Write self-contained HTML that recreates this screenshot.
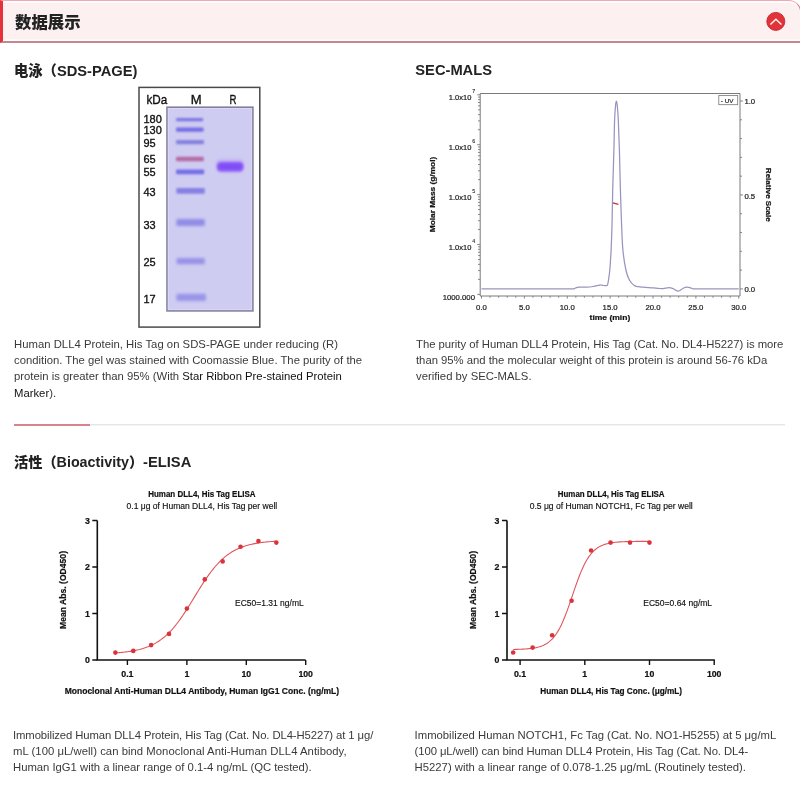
<!DOCTYPE html>
<html><head>
<meta charset="utf-8">
<style>
html,body{margin:0;padding:0;background:#fff;}
body{width:800px;height:804px;position:relative;overflow:hidden;font-family:"Liberation Sans","Noto Sans CJK SC",sans-serif;}
.abs{position:absolute;}
.hdr{position:absolute;left:0;top:0;width:801px;height:43px;box-sizing:border-box;background:#fcf0f1;box-shadow:inset 0 2px 0 #fff,inset 0 -1.5px 0 #fff;border-top:1.6px solid #f6a6ae;border-bottom:2px solid #c4878e;border-left:3px solid #e5323a;border-right:1px solid #c4878e;border-top-right-radius:12px;}
.hdr .t{position:absolute;left:12.1px;top:11.3px;font-size:16.4px;line-height:20px;font-weight:bold;color:#222;font-family:"Liberation Sans","Noto Sans CJK SC",sans-serif;}
.h2{position:absolute;font-size:14.7px;line-height:16px;font-weight:bold;color:#222;font-family:"Liberation Sans","Noto Sans CJK SC",sans-serif;white-space:nowrap;}
.cap{position:absolute;font-size:11.3px;line-height:16.25px;color:#3a3a3a;white-space:nowrap;}
.cj{font-family:"Liberation Sans","Noto Sans CJK SC",sans-serif;font-weight:900;}
.cap b{font-weight:normal;color:#111;}
.sep{position:absolute;left:14px;top:424px;width:771px;height:1px;background:#e6e6e6;box-shadow:0 1px 0 #f3f3f3;}
.sep i{position:absolute;left:0;top:0;width:76px;height:2px;background:#d9838c;}
</style>
</head>
<body>
<div class="hdr"><div class="t"><span class="cj">数据展示</span></div></div>
<svg class="abs" style="left:766px;top:12px" width="20" height="20" viewBox="0 0 20 20">
  <circle cx="9.8" cy="9.4" r="9.0" fill="#e0343a" stroke="#c8242c" stroke-width="0.9"></circle>
  <polyline points="4.4,12.5 9.9,7.2 15.4,12.5" fill="none" stroke="#fff2f2" stroke-width="1.45"></polyline>
</svg>

<div class="h2" style="left:14px;top:62.5px"><span class="cj" style="font-size:14.3px">电泳（</span>SDS-PAGE)</div>
<div class="h2" style="left:415.3px;top:62px">SEC-MALS</div>

<div class="cap" style="left:14px;top:335.8px"><div style="letter-spacing:0.017px">Human DLL4 Protein, His Tag on SDS-PAGE under reducing (R)</div><div>condition. The gel was stained with Coomassie Blue. The purity of the</div><div>protein is greater than 95% (With <b>Star Ribbon Pre-stained Protein</b></div><div><b>Marker</b>).</div></div>
<div class="cap" style="left:416px;top:335.8px"><div style="letter-spacing:-0.014px">The purity of Human DLL4 Protein, His Tag (Cat. No. DL4-H5227) is more</div><div style="letter-spacing:-0.015px">than 95% and the molecular weight of this protein is around 56-76 kDa</div><div>verified by SEC-MALS.</div></div>

<div class="sep"><i></i></div>

<div class="h2" style="left:14px;top:453.6px"><span class="cj" style="font-size:14.2px">活性（</span><span style="font-size:14.3px">Bioactivity</span><span class="cj" style="font-size:14.2px">）</span>-ELISA</div>

<div class="cap" style="left:13px;top:726.6px"><div style="letter-spacing:-0.094px">Immobilized Human DLL4 Protein, His Tag (Cat. No. DL4-H5227) at 1 μg/</div><div style="letter-spacing:0.04px">mL (100 μL/well) can bind Monoclonal Anti-Human DLL4 Antibody,</div><div style="letter-spacing:-0.017px">Human IgG1 with a linear range of 0.1-4 ng/mL (QC tested).</div></div>
<div class="cap" style="left:414.6px;top:726.6px"><div>Immobilized Human NOTCH1, Fc Tag (Cat. No. NO1-H5255) at 5 μg/mL</div><div style="letter-spacing:-0.086px">(100 μL/well) can bind Human DLL4 Protein, His Tag (Cat. No. DL4-</div><div>H5227) with a linear range of 0.078-1.25 μg/mL (Routinely tested).</div></div>

<svg class="abs" style="left:0;top:0" width="800" height="804" viewBox="0 0 800 804"><g font-family="'Liberation Sans', sans-serif">
<rect x="139" y="87.4" width="120.8" height="239.7" fill="#fff" stroke="#4a4a4a" stroke-width="1.5"></rect>
<rect x="167" y="107.2" width="85.9" height="203.7" fill="#cfccf1" stroke="#817f9c" stroke-width="1.6"></rect>
<rect x="168.3" y="108.5" width="83.3" height="201.1" fill="none" stroke="#dcd8f8" stroke-width="1"></rect>
<filter id="bl2" x="-30%" y="-100%" width="160%" height="300%"><feGaussianBlur stdDeviation="1.7"></feGaussianBlur></filter>
<filter id="bl3" x="-30%" y="-100%" width="160%" height="300%"><feGaussianBlur stdDeviation="1.0"></feGaussianBlur></filter>
<filter id="b0" x="-30%" y="-200%" width="160%" height="500%"><feGaussianBlur stdDeviation="0.88 0.80"></feGaussianBlur></filter>
<rect x="176.0" y="117.95" width="27.20" height="3.3" rx="1.2" fill="#7c76e4" filter="url(#b0)"></rect>
<filter id="b1" x="-30%" y="-200%" width="160%" height="500%"><feGaussianBlur stdDeviation="0.88 0.80"></feGaussianBlur></filter>
<rect x="176.0" y="127.50" width="27.60" height="4.2" rx="1.2" fill="#736de8" filter="url(#b1)"></rect>
<filter id="b2" x="-30%" y="-200%" width="160%" height="500%"><feGaussianBlur stdDeviation="0.94 0.85"></feGaussianBlur></filter>
<rect x="176.0" y="140.10" width="28.00" height="4.2" rx="1.2" fill="#8480e0" filter="url(#b2)"></rect>
<filter id="b3" x="-30%" y="-200%" width="160%" height="500%"><feGaussianBlur stdDeviation="0.94 0.85"></feGaussianBlur></filter>
<rect x="176.0" y="156.80" width="27.80" height="4.4" rx="1.2" fill="#b46aa6" filter="url(#b3)"></rect>
<filter id="b4" x="-30%" y="-200%" width="160%" height="500%"><feGaussianBlur stdDeviation="0.94 0.85"></feGaussianBlur></filter>
<rect x="176.0" y="169.50" width="28.20" height="4.8" rx="1.2" fill="#736de8" filter="url(#b4)"></rect>
<filter id="b5" x="-30%" y="-200%" width="160%" height="500%"><feGaussianBlur stdDeviation="1.16 1.05"></feGaussianBlur></filter>
<rect x="176.4" y="188.00" width="28.40" height="5.8" rx="1.2" fill="#8580e4" filter="url(#b5)"></rect>
<filter id="b6" x="-30%" y="-200%" width="160%" height="500%"><feGaussianBlur stdDeviation="1.49 1.35"></feGaussianBlur></filter>
<rect x="176.4" y="218.90" width="28.40" height="7.0" rx="1.2" fill="#918ce6" filter="url(#b6)"></rect>
<filter id="b7" x="-30%" y="-200%" width="160%" height="500%"><feGaussianBlur stdDeviation="1.49 1.35"></feGaussianBlur></filter>
<rect x="176.6" y="258.00" width="28.20" height="6.2" rx="1.2" fill="#9893e8" filter="url(#b7)"></rect>
<filter id="b8" x="-30%" y="-200%" width="160%" height="500%"><feGaussianBlur stdDeviation="1.59 1.45"></feGaussianBlur></filter>
<rect x="176.4" y="293.70" width="29.60" height="7.2" rx="1.2" fill="#9a95e9" filter="url(#b8)"></rect>
<rect x="216.0" y="159.4" width="28.0" height="13.2" rx="5" fill="#bca8f5" filter="url(#bl2)"></rect>
<rect x="217.0" y="162.0" width="26.4" height="9.4" rx="4.2" fill="#9363f7" filter="url(#bl3)"></rect>
<rect x="218.6" y="163.8" width="23.4" height="5.6" rx="2.8" fill="#7f4ef6" filter="url(#bl3)"></rect>
<g stroke="#111" stroke-width="0.35">
<text x="146.4" y="104.0" font-size="12.60" textLength="20.8" lengthAdjust="spacingAndGlyphs" fill="#111">kDa</text>
<text x="196.1" y="103.7" font-size="13.32" text-anchor="middle" textLength="10.9" lengthAdjust="spacingAndGlyphs" fill="#111">M</text>
<text x="233.0" y="103.7" font-size="13.32" text-anchor="middle" textLength="7.0" lengthAdjust="spacingAndGlyphs" fill="#111">R</text>
<text x="143.4" y="122.7" font-size="11.52" textLength="18.4" lengthAdjust="spacingAndGlyphs" fill="#111">180</text>
<text x="143.4" y="133.6" font-size="11.52" textLength="18.4" lengthAdjust="spacingAndGlyphs" fill="#111">130</text>
<text x="143.4" y="147.1" font-size="11.52" textLength="12.2" lengthAdjust="spacingAndGlyphs" fill="#111">95</text>
<text x="143.4" y="162.7" font-size="11.52" textLength="12.2" lengthAdjust="spacingAndGlyphs" fill="#111">65</text>
<text x="143.4" y="175.6" font-size="11.52" textLength="12.2" lengthAdjust="spacingAndGlyphs" fill="#111">55</text>
<text x="143.4" y="195.8" font-size="11.52" textLength="12.2" lengthAdjust="spacingAndGlyphs" fill="#111">43</text>
<text x="143.4" y="228.5" font-size="11.52" textLength="12.2" lengthAdjust="spacingAndGlyphs" fill="#111">33</text>
<text x="143.4" y="266.4" font-size="11.52" textLength="12.2" lengthAdjust="spacingAndGlyphs" fill="#111">25</text>
<text x="143.4" y="302.9" font-size="11.52" textLength="12.2" lengthAdjust="spacingAndGlyphs" fill="#111">17</text>
</g>
</g>
<g font-family="'Liberation Sans', sans-serif" fill="#222">
<g stroke="#222" stroke-width="0.22">
<path d="M480.2 93.5 H740 V296 H480.2 Z" fill="none" stroke="#7a7a7a" stroke-width="1"></path>
<path d="M477.2 294.40H480.2 M478.0 279.38H480.2 M478.0 270.59H480.2 M478.0 264.36H480.2 M478.0 259.52H480.2 M478.0 255.57H480.2 M478.0 252.23H480.2 M478.0 249.34H480.2 M478.0 246.78H480.2 M477.2 244.50H480.2 M478.0 229.48H480.2 M478.0 220.69H480.2 M478.0 214.46H480.2 M478.0 209.62H480.2 M478.0 205.67H480.2 M478.0 202.33H480.2 M478.0 199.44H480.2 M478.0 196.88H480.2 M477.2 194.60H480.2 M478.0 179.58H480.2 M478.0 170.79H480.2 M478.0 164.56H480.2 M478.0 159.72H480.2 M478.0 155.77H480.2 M478.0 152.43H480.2 M478.0 149.54H480.2 M478.0 146.98H480.2 M477.2 144.70H480.2 M478.0 129.68H480.2 M478.0 120.89H480.2 M478.0 114.66H480.2 M478.0 109.82H480.2 M478.0 105.87H480.2 M478.0 102.53H480.2 M478.0 99.64H480.2 M478.0 97.08H480.2 M477.2 94.80H480.2 M481.50 296V298.6 M490.07 296V297.8 M498.65 296V297.8 M507.23 296V297.8 M515.80 296V297.8 M524.38 296V298.6 M532.95 296V297.8 M541.52 296V297.8 M550.10 296V297.8 M558.67 296V297.8 M567.25 296V298.6 M575.83 296V297.8 M584.40 296V297.8 M592.98 296V297.8 M601.55 296V297.8 M610.12 296V298.6 M618.70 296V297.8 M627.27 296V297.8 M635.85 296V297.8 M644.42 296V297.8 M653.00 296V298.6 M661.58 296V297.8 M670.15 296V297.8 M678.73 296V297.8 M687.30 296V297.8 M695.88 296V298.6 M704.45 296V297.8 M713.02 296V297.8 M721.60 296V297.8 M730.17 296V297.8 M738.75 296V298.6 M740 288.90H743 M740 270.11H742 M740 251.32H742 M740 232.53H742 M740 213.74H742 M740 194.95H743 M740 176.16H742 M740 157.37H742 M740 138.58H742 M740 119.79H742 M740 101.00H743" stroke="#7a7a7a" stroke-width="0.9" fill="none"></path>
<text x="471.4" y="100.0" font-size="7.74" text-anchor="end" textLength="22.6" lengthAdjust="spacingAndGlyphs" fill="#222">1.0x10</text>
<text x="472.2" y="93.0" font-size="5.22" fill="#333" stroke-width="0.12" textLength="2.95" lengthAdjust="spacingAndGlyphs">7</text>
<text x="471.4" y="149.9" font-size="7.74" text-anchor="end" textLength="22.6" lengthAdjust="spacingAndGlyphs" fill="#222">1.0x10</text>
<text x="472.2" y="142.9" font-size="5.22" fill="#333" stroke-width="0.12" textLength="2.95" lengthAdjust="spacingAndGlyphs">6</text>
<text x="471.4" y="199.6" font-size="7.74" text-anchor="end" textLength="22.6" lengthAdjust="spacingAndGlyphs" fill="#222">1.0x10</text>
<text x="472.2" y="192.6" font-size="5.22" fill="#333" stroke-width="0.12" textLength="2.95" lengthAdjust="spacingAndGlyphs">5</text>
<text x="471.4" y="249.5" font-size="7.74" text-anchor="end" textLength="22.6" lengthAdjust="spacingAndGlyphs" fill="#222">1.0x10</text>
<text x="472.2" y="242.5" font-size="5.22" fill="#333" stroke-width="0.12" textLength="2.95" lengthAdjust="spacingAndGlyphs">4</text>
<text x="475" y="299.7" font-size="7.74" text-anchor="end" textLength="32.3" lengthAdjust="spacingAndGlyphs" fill="#222">1000.000</text>
<text x="481.50" y="310.2" font-size="7.65" text-anchor="middle" fill="#222" textLength="10.77" lengthAdjust="spacingAndGlyphs">0.0</text>
<text x="524.38" y="310.2" font-size="7.65" text-anchor="middle" fill="#222" textLength="10.77" lengthAdjust="spacingAndGlyphs">5.0</text>
<text x="567.25" y="310.2" font-size="7.65" text-anchor="middle" fill="#222" textLength="15.08" lengthAdjust="spacingAndGlyphs">10.0</text>
<text x="610.12" y="310.2" font-size="7.65" text-anchor="middle" fill="#222" textLength="15.08" lengthAdjust="spacingAndGlyphs">15.0</text>
<text x="653.00" y="310.2" font-size="7.65" text-anchor="middle" fill="#222" textLength="15.08" lengthAdjust="spacingAndGlyphs">20.0</text>
<text x="695.88" y="310.2" font-size="7.65" text-anchor="middle" fill="#222" textLength="15.08" lengthAdjust="spacingAndGlyphs">25.0</text>
<text x="738.75" y="310.2" font-size="7.65" text-anchor="middle" fill="#222" textLength="15.08" lengthAdjust="spacingAndGlyphs">30.0</text>
<text x="744.4" y="103.9" font-size="7.65" fill="#222" textLength="10.77" lengthAdjust="spacingAndGlyphs">1.0</text>
<text x="744.4" y="198.5" font-size="7.65" fill="#222" textLength="10.77" lengthAdjust="spacingAndGlyphs">0.5</text>
<text x="744.4" y="292.09999999999997" font-size="7.65" fill="#222" textLength="10.77" lengthAdjust="spacingAndGlyphs">0.0</text>
<text x="609.9" y="320" font-size="7.47" text-anchor="middle" font-weight="bold" textLength="40.7" lengthAdjust="spacingAndGlyphs" fill="#111">time (min)</text>
<text transform="translate(434.6 194.5) rotate(-90)" font-size="7.38" font-weight="bold" text-anchor="middle" fill="#111" textLength="75.6" lengthAdjust="spacingAndGlyphs">Molar Mass (g/mol)</text>
<text transform="translate(765.9 194.8) rotate(90)" font-size="7.20" font-weight="bold" text-anchor="middle" fill="#111" textLength="53.9" lengthAdjust="spacingAndGlyphs">Relative Scale</text>
<rect x="718.8" y="95.4" width="18.9" height="9.3" fill="#fff" stroke="#777" stroke-width="0.8"></rect>
<text x="720.8" y="102.6" font-size="6.12" textLength="12.6" lengthAdjust="spacingAndGlyphs" fill="#333">- UV</text>
</g>
<path d="M481.50 288.90 C482.19 288.90 484.26 288.90 485.64 288.90 C487.02 288.90 488.39 288.90 489.77 288.90 C491.15 288.90 492.53 288.90 493.91 288.90 C495.29 288.90 496.67 288.90 498.05 288.90 C499.42 288.90 500.80 288.90 502.18 288.90 C503.56 288.90 504.94 288.90 506.32 288.90 C507.70 288.90 509.08 288.90 510.45 288.90 C511.83 288.90 513.21 288.90 514.59 288.90 C515.97 288.90 517.35 288.90 518.73 288.90 C520.11 288.90 521.48 288.90 522.86 288.90 C524.24 288.90 525.62 288.90 527.00 288.90 C528.38 288.90 529.76 288.90 531.14 288.90 C532.52 288.90 533.89 288.90 535.27 288.90 C536.65 288.90 538.03 288.90 539.41 288.90 C540.79 288.90 542.17 288.90 543.55 288.90 C544.92 288.90 546.30 288.90 547.68 288.90 C549.06 288.90 550.44 288.90 551.82 288.90 C553.20 288.90 554.58 288.90 555.95 288.90 C557.33 288.90 558.71 288.90 560.09 288.90 C561.47 288.90 562.85 288.90 564.23 288.90 C565.61 288.90 566.98 288.90 568.36 288.90 C569.74 288.90 571.46 288.95 572.50 288.90 C573.54 288.85 573.95 288.82 574.60 288.60 C575.25 288.38 575.75 287.83 576.40 287.60 C577.05 287.37 577.19 287.28 578.50 287.20 C579.81 287.12 582.33 287.13 584.25 287.10 C586.17 287.07 588.38 287.13 590.00 287.00 C591.62 286.87 592.67 286.57 594.00 286.30 C595.33 286.03 596.83 285.62 598.00 285.40 C599.17 285.18 600.00 284.98 601.00 285.00 C602.00 285.02 603.07 285.40 604.00 285.50 C604.93 285.60 606.00 285.75 606.60 285.60 C607.20 285.45 607.28 285.53 607.60 284.60 C607.92 283.67 608.13 282.43 608.50 280.00 C608.87 277.57 609.37 275.00 609.80 270.00 C610.23 265.00 610.73 257.50 611.10 250.00 C611.47 242.50 611.73 235.00 612.00 225.00 C612.27 215.00 612.38 202.50 612.70 190.00 C613.02 177.50 613.58 161.67 613.90 150.00 C614.22 138.33 614.33 127.33 614.60 120.00 C614.87 112.67 615.20 109.13 615.50 106.00 C615.80 102.87 616.10 101.20 616.40 101.20 C616.70 101.20 616.98 102.87 617.30 106.00 C617.62 109.13 617.95 112.67 618.30 120.00 C618.65 127.33 619.05 138.33 619.40 150.00 C619.75 161.67 620.03 177.50 620.40 190.00 C620.77 202.50 621.18 215.00 621.60 225.00 C622.02 235.00 622.18 242.50 622.90 250.00 C623.62 257.50 624.82 265.00 625.90 270.00 C626.98 275.00 628.00 277.40 629.40 280.00 C630.80 282.60 632.77 284.48 634.30 285.60 C635.83 286.72 637.04 286.44 638.60 286.70 C640.16 286.96 641.97 287.00 643.65 287.15 C645.33 287.30 647.06 287.46 648.70 287.60 C650.34 287.74 651.88 287.84 653.47 287.97 C655.06 288.09 656.64 288.21 658.23 288.33 C659.82 288.46 661.24 288.81 663.00 288.70 C664.76 288.59 667.12 287.72 668.80 287.70 C670.48 287.68 671.53 288.03 673.10 288.60 C674.67 289.17 676.52 291.15 678.20 291.10 C679.88 291.05 681.77 288.95 683.20 288.30 C684.63 287.65 685.60 287.28 686.80 287.20 C688.00 287.12 689.33 287.52 690.40 287.80 C691.47 288.08 692.04 288.72 693.20 288.90 C694.36 289.08 695.96 288.90 697.34 288.90 C698.72 288.90 700.09 288.90 701.47 288.90 C702.85 288.90 704.23 288.90 705.61 288.90 C706.99 288.90 708.37 288.90 709.75 288.90 C711.12 288.90 712.50 288.90 713.88 288.90 C715.26 288.90 716.64 288.90 718.02 288.90 C719.40 288.90 720.78 288.90 722.15 288.90 C723.53 288.90 724.91 288.90 726.29 288.90 C727.67 288.90 729.05 288.90 730.43 288.90 C731.81 288.90 733.18 288.90 734.56 288.90 C735.94 288.90 738.01 288.90 738.70 288.90" fill="none" stroke="#9894be" stroke-width="1.25" stroke-linejoin="round"></path>
<path d="M612.9 202.9 L618.4 204.3" stroke="#c0303a" stroke-width="1.3"></path>
</g>
<g font-family="'Liberation Sans', sans-serif" fill="#111">
<path d="M97.3 520.4 V660 H305.6" fill="none" stroke="#111" stroke-width="1.6"></path>
<path d="M92.3 660.0H97.3 M92.3 613.5H97.3 M92.3 567.0H97.3 M92.3 520.5H97.3 M127.4 660V665 M186.9 660V665 M246.3 660V665 M305.7 660V665" stroke="#111" stroke-width="1.4" fill="none"></path>
<g stroke="#111" stroke-width="0.2">
<text x="89.8" y="663.2" font-size="8.64" text-anchor="end" font-weight="bold" fill="#111" textLength="4.88" lengthAdjust="spacingAndGlyphs">0</text>
<text x="89.8" y="616.7" font-size="8.64" text-anchor="end" font-weight="bold" fill="#111" textLength="4.88" lengthAdjust="spacingAndGlyphs">1</text>
<text x="89.8" y="570.2" font-size="8.64" text-anchor="end" font-weight="bold" fill="#111" textLength="4.88" lengthAdjust="spacingAndGlyphs">2</text>
<text x="89.8" y="523.7" font-size="8.64" text-anchor="end" font-weight="bold" fill="#111" textLength="4.88" lengthAdjust="spacingAndGlyphs">3</text>
<text x="127.4" y="677.0" font-size="8.64" text-anchor="middle" font-weight="bold" fill="#111" textLength="12.30" lengthAdjust="spacingAndGlyphs">0.1</text>
<text x="186.9" y="677.0" font-size="8.64" text-anchor="middle" font-weight="bold" fill="#111" textLength="4.88" lengthAdjust="spacingAndGlyphs">1</text>
<text x="246.3" y="677.0" font-size="8.64" text-anchor="middle" font-weight="bold" fill="#111" textLength="9.73" lengthAdjust="spacingAndGlyphs">10</text>
<text x="305.7" y="677.0" font-size="8.64" text-anchor="middle" font-weight="bold" fill="#111" textLength="14.59" lengthAdjust="spacingAndGlyphs">100</text>
<text x="201.9" y="496.7" font-size="8.64" text-anchor="middle" font-weight="bold" textLength="107.3" lengthAdjust="spacingAndGlyphs" fill="#111">Human DLL4, His Tag ELISA</text>
<text x="201.9" y="508.6" font-size="8.64" text-anchor="middle" textLength="150.7" lengthAdjust="spacingAndGlyphs" fill="#111" stroke-width="0.15">0.1 μg of Human DLL4, His Tag per well</text>
<text x="201.9" y="694.4" font-size="8.64" text-anchor="middle" font-weight="bold" textLength="274.5" lengthAdjust="spacingAndGlyphs" fill="#111">Monoclonal Anti-Human DLL4 Antibody, Human IgG1 Conc. (ng/mL)</text>
<text x="235.1" y="606.3" font-size="8.64" textLength="68.6" lengthAdjust="spacingAndGlyphs" fill="#111" stroke-width="0.15">EC50=1.31 ng/mL</text>
<text transform="translate(66.1 590) rotate(-90)" font-size="8.82" font-weight="bold" text-anchor="middle" textLength="78" lengthAdjust="spacingAndGlyphs">Mean Abs. (OD450)</text>
</g>
<path d="M115.38 652.90 L116.73 652.81 L118.08 652.71 L119.43 652.60 L120.78 652.48 L122.14 652.35 L123.49 652.21 L124.84 652.06 L126.19 651.90 L127.55 651.73 L128.90 651.54 L130.25 651.34 L131.60 651.12 L132.96 650.88 L134.31 650.63 L135.66 650.36 L137.01 650.07 L138.37 649.76 L139.72 649.42 L141.07 649.06 L142.42 648.67 L143.77 648.25 L145.13 647.80 L146.48 647.32 L147.83 646.81 L149.18 646.26 L150.54 645.67 L151.89 645.04 L153.24 644.37 L154.59 643.66 L155.95 642.89 L157.30 642.08 L158.65 641.22 L160.00 640.30 L161.36 639.33 L162.71 638.30 L164.06 637.21 L165.41 636.06 L166.76 634.84 L168.12 633.56 L169.47 632.22 L170.82 630.80 L172.17 629.33 L173.53 627.78 L174.88 626.17 L176.23 624.50 L177.58 622.76 L178.94 620.96 L180.29 619.09 L181.64 617.18 L182.99 615.20 L184.35 613.18 L185.70 611.12 L187.05 609.01 L188.40 606.87 L189.75 604.71 L191.11 602.51 L192.46 600.31 L193.81 598.09 L195.16 595.87 L196.52 593.65 L197.87 591.45 L199.22 589.26 L200.57 587.10 L201.93 584.96 L203.28 582.86 L204.63 580.80 L205.98 578.79 L207.34 576.83 L208.69 574.92 L210.04 573.06 L211.39 571.27 L212.75 569.54 L214.10 567.87 L215.45 566.27 L216.80 564.74 L218.15 563.27 L219.51 561.87 L220.86 560.54 L222.21 559.27 L223.56 558.06 L224.92 556.92 L226.27 555.84 L227.62 554.81 L228.97 553.85 L230.33 552.94 L231.68 552.08 L233.03 551.28 L234.38 550.52 L235.74 549.81 L237.09 549.15 L238.44 548.53 L239.79 547.95 L241.14 547.40 L242.50 546.89 L243.85 546.42 L245.20 545.98 L246.55 545.56 L247.91 545.18 L249.26 544.82 L250.61 544.49 L251.96 544.18 L253.32 543.89 L254.67 543.62 L256.02 543.37 L257.37 543.14 L258.73 542.92 L260.08 542.72 L261.43 542.54 L262.78 542.37 L264.13 542.21 L265.49 542.06 L266.84 541.92 L268.19 541.79 L269.54 541.68 L270.90 541.57 L272.25 541.47 L273.60 541.37 L274.95 541.28 L276.31 541.20" fill="none" stroke="#e0555c" stroke-width="1.1"></path>
<circle cx="115.38" cy="652.6" r="2.3" fill="#dc323c"></circle>
<circle cx="133.26" cy="650.9" r="2.3" fill="#dc323c"></circle>
<circle cx="151.14" cy="645.1" r="2.3" fill="#dc323c"></circle>
<circle cx="169.02" cy="633.9" r="2.3" fill="#dc323c"></circle>
<circle cx="186.90" cy="608.6" r="2.3" fill="#dc323c"></circle>
<circle cx="204.78" cy="579.4" r="2.3" fill="#dc323c"></circle>
<circle cx="222.66" cy="561.4" r="2.3" fill="#dc323c"></circle>
<circle cx="240.54" cy="546.7" r="2.3" fill="#dc323c"></circle>
<circle cx="258.42" cy="541.1" r="2.3" fill="#dc323c"></circle>
<circle cx="276.31" cy="542.6" r="2.3" fill="#dc323c"></circle>
</g>
<g font-family="'Liberation Sans', sans-serif" fill="#111">
<path d="M507.0 520.4 V660 H714.8" fill="none" stroke="#111" stroke-width="1.6"></path>
<path d="M502.0 660.0H507.0 M502.0 613.5H507.0 M502.0 567.0H507.0 M502.0 520.5H507.0 M520.1 660V665 M584.8 660V665 M649.5 660V665 M714.2 660V665" stroke="#111" stroke-width="1.4" fill="none"></path>
<g stroke="#111" stroke-width="0.2">
<text x="499.5" y="663.2" font-size="8.64" text-anchor="end" font-weight="bold" fill="#111" textLength="4.88" lengthAdjust="spacingAndGlyphs">0</text>
<text x="499.5" y="616.7" font-size="8.64" text-anchor="end" font-weight="bold" fill="#111" textLength="4.88" lengthAdjust="spacingAndGlyphs">1</text>
<text x="499.5" y="570.2" font-size="8.64" text-anchor="end" font-weight="bold" fill="#111" textLength="4.88" lengthAdjust="spacingAndGlyphs">2</text>
<text x="499.5" y="523.7" font-size="8.64" text-anchor="end" font-weight="bold" fill="#111" textLength="4.88" lengthAdjust="spacingAndGlyphs">3</text>
<text x="520.1" y="677.0" font-size="8.64" text-anchor="middle" font-weight="bold" fill="#111" textLength="12.30" lengthAdjust="spacingAndGlyphs">0.1</text>
<text x="584.8" y="677.0" font-size="8.64" text-anchor="middle" font-weight="bold" fill="#111" textLength="4.88" lengthAdjust="spacingAndGlyphs">1</text>
<text x="649.5" y="677.0" font-size="8.64" text-anchor="middle" font-weight="bold" fill="#111" textLength="9.73" lengthAdjust="spacingAndGlyphs">10</text>
<text x="714.2" y="677.0" font-size="8.64" text-anchor="middle" font-weight="bold" fill="#111" textLength="14.59" lengthAdjust="spacingAndGlyphs">100</text>
<text x="611.2" y="496.7" font-size="8.64" text-anchor="middle" font-weight="bold" textLength="106.8" lengthAdjust="spacingAndGlyphs" fill="#111">Human DLL4, His Tag ELISA</text>
<text x="611.2" y="508.6" font-size="8.64" text-anchor="middle" textLength="163.1" lengthAdjust="spacingAndGlyphs" fill="#111" stroke-width="0.15">0.5 μg of Human NOTCH1, Fc Tag per well</text>
<text x="611.2" y="694.4" font-size="8.64" text-anchor="middle" font-weight="bold" textLength="141.7" lengthAdjust="spacingAndGlyphs" fill="#111">Human DLL4, His Tag Conc. (μg/mL)</text>
<text x="643.3" y="606.3" font-size="8.64" textLength="68.8" lengthAdjust="spacingAndGlyphs" fill="#111" stroke-width="0.15">EC50=0.64 ng/mL</text>
<text transform="translate(475.8 590) rotate(-90)" font-size="8.82" font-weight="bold" text-anchor="middle" textLength="78" lengthAdjust="spacingAndGlyphs">Mean Abs. (OD450)</text>
</g>
<path d="M513.16 649.45 L514.31 649.43 L515.45 649.40 L516.60 649.37 L517.75 649.34 L518.89 649.31 L520.04 649.26 L521.18 649.22 L522.33 649.16 L523.47 649.11 L524.62 649.04 L525.77 648.96 L526.91 648.87 L528.06 648.78 L529.20 648.67 L530.35 648.54 L531.49 648.40 L532.64 648.24 L533.79 648.06 L534.93 647.85 L536.08 647.62 L537.22 647.36 L538.37 647.07 L539.51 646.74 L540.66 646.37 L541.81 645.95 L542.95 645.48 L544.10 644.95 L545.24 644.36 L546.39 643.69 L547.53 642.95 L548.68 642.12 L549.83 641.20 L550.97 640.17 L552.12 639.03 L553.26 637.78 L554.41 636.39 L555.55 634.86 L556.70 633.19 L557.85 631.37 L558.99 629.39 L560.14 627.25 L561.28 624.94 L562.43 622.47 L563.57 619.84 L564.72 617.06 L565.87 614.14 L567.01 611.09 L568.16 607.93 L569.30 604.67 L570.45 601.34 L571.59 597.97 L572.74 594.58 L573.88 591.19 L575.03 587.84 L576.18 584.55 L577.32 581.34 L578.47 578.23 L579.61 575.25 L580.76 572.40 L581.90 569.69 L583.05 567.15 L584.20 564.76 L585.34 562.54 L586.49 560.49 L587.63 558.59 L588.78 556.84 L589.92 555.25 L591.07 553.80 L592.22 552.48 L593.36 551.28 L594.51 550.21 L595.65 549.23 L596.80 548.36 L597.94 547.58 L599.09 546.88 L600.24 546.25 L601.38 545.70 L602.53 545.20 L603.67 544.75 L604.82 544.36 L605.96 544.01 L607.11 543.70 L608.26 543.42 L609.40 543.18 L610.55 542.96 L611.69 542.77 L612.84 542.60 L613.98 542.45 L615.13 542.32 L616.28 542.20 L617.42 542.10 L618.57 542.00 L619.71 541.92 L620.86 541.85 L622.00 541.79 L623.15 541.73 L624.29 541.68 L625.44 541.64 L626.59 541.60 L627.73 541.57 L628.88 541.54 L630.02 541.51 L631.17 541.49 L632.31 541.47 L633.46 541.45 L634.61 541.43 L635.75 541.42 L636.90 541.41 L638.04 541.39 L639.19 541.39 L640.33 541.38 L641.48 541.37 L642.63 541.36 L643.77 541.36 L644.92 541.35 L646.06 541.35 L647.21 541.34 L648.35 541.34 L649.50 541.34" fill="none" stroke="#e0555c" stroke-width="1.1"></path>
<circle cx="513.16" cy="652.5" r="2.3" fill="#dc323c"></circle>
<circle cx="532.64" cy="647.6" r="2.3" fill="#dc323c"></circle>
<circle cx="552.12" cy="635.2" r="2.3" fill="#dc323c"></circle>
<circle cx="571.59" cy="600.7" r="2.3" fill="#dc323c"></circle>
<circle cx="591.07" cy="550.5" r="2.3" fill="#dc323c"></circle>
<circle cx="610.55" cy="542.6" r="2.3" fill="#dc323c"></circle>
<circle cx="630.02" cy="542.6" r="2.3" fill="#dc323c"></circle>
<circle cx="649.50" cy="542.6" r="2.3" fill="#dc323c"></circle>
</g></svg>


</body></html>
